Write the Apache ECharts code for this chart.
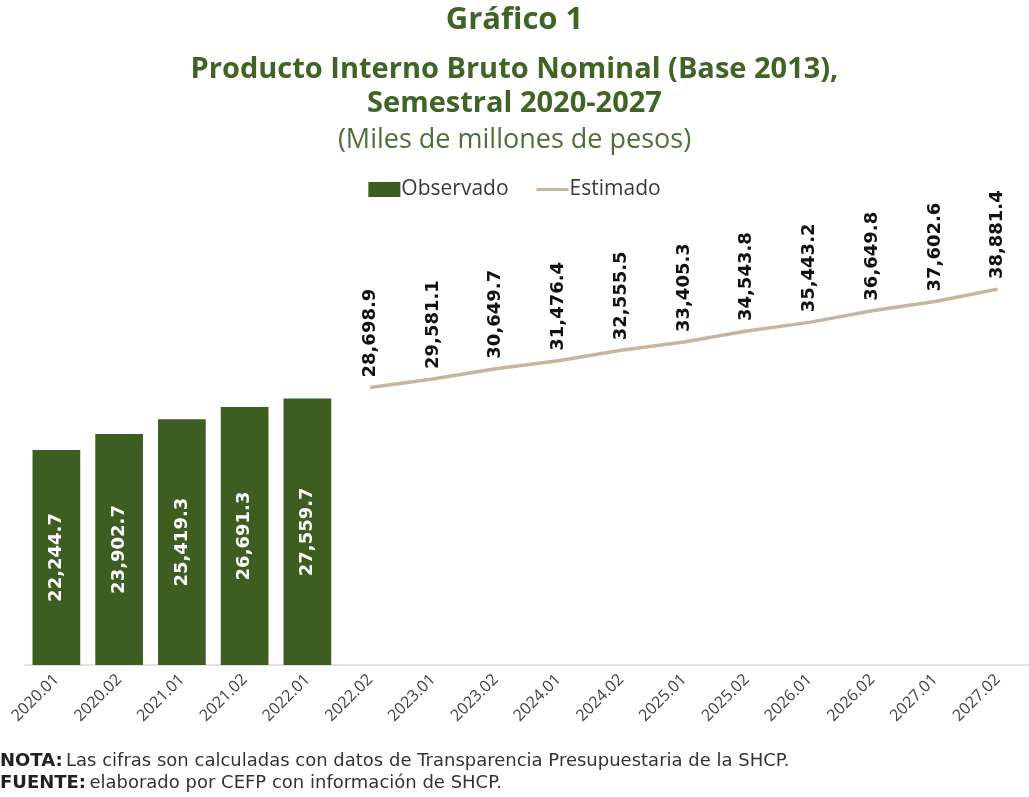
<!DOCTYPE html>
<html><head><meta charset="utf-8">
<script src="https://cdn.jsdelivr.net/npm/echarts@6/dist/echarts.min.js"></script>
<style>html,body{margin:0;padding:0;background:#fff}#c{width:1029px;height:797px}</style>
</head><body><div id="c"></div>
<script>
const categories = ['2020.01','2020.02','2021.01','2021.02','2022.01','2022.02','2023.01','2023.02','2024.01','2024.02','2025.01','2025.02','2026.01','2026.02','2027.01','2027.02'];
const observado = [22244.7, 23902.7, 25419.3, 26691.3, 27559.7, null, null, null, null, null, null, null, null, null, null, null];
const estimado = [null, null, null, null, null, 28698.9, 29581.1, 30649.7, 31476.4, 32555.5, 33405.3, 34543.8, 35443.2, 36649.8, 37602.6, 38881.4];

const fmt = v => Number(v).toLocaleString('en-US', {minimumFractionDigits:1, maximumFractionDigits:1});
const GREEN = '#3d5d21';
const TAN = '#c8b59e';
const chart = echarts.init(document.getElementById('c'));
chart.setOption({
  animation: false,
  backgroundColor: '#fff',
  title: [
    {text: 'Gráfico 1', left: 'center', top: 0, textStyle: {fontFamily: 'Open Sans', fontWeight: 'bold', fontSize: 31, color: '#3f6426'}},
    {text: 'Producto Interno Bruto Nominal (Base 2013),', left: 'center', top: 50, textStyle: {fontFamily: 'Open Sans', fontWeight: 'bold', fontSize: 29, color: '#3f6426'}},
    {text: 'Semestral 2020-2027', left: 'center', top: 84, textStyle: {fontFamily: 'Open Sans', fontWeight: 'bold', fontSize: 29, color: '#3f6426'}},
    {text: '(Miles de millones de pesos)', left: 'center', top: 122, textStyle: {fontFamily: 'Open Sans', fontWeight: 'normal', fontSize: 27, color: '#4f6e38'}}
  ],
  legend: {
    top: 174, left: 'center', itemGap: 28, itemWidth: 32, itemHeight: 15,
    textStyle: {fontFamily: 'Open Sans', fontSize: 21, color: '#3a3a3a', padding: [0,0,0,-4]},
    data: [
      {name: 'Observado', icon: 'rect', itemStyle: {color: GREEN}},
      {name: 'Estimado', icon: 'path://M0,6 L32,6 L32,9 L0,9 Z', itemStyle: {color: TAN, opacity: 1}}
    ]
  },
  graphic: [
    {type: 'text', left: 0, top: 752, style: {rich: {b: {fontWeight: 'bold', fontFamily: 'DejaVu Sans', fontSize: 18, fill: '#222'}, n: {fontFamily: 'DejaVu Sans', fontSize: 18, fill: '#333'}}, text: '{b|NOTA:} {n|Las cifras son calculadas con datos de Transparencia Presupuestaria de la SHCP.}'}},
    {type: 'text', left: 0, top: 774, style: {rich: {b: {fontWeight: 'bold', fontFamily: 'DejaVu Sans', fontSize: 18, fill: '#222'}, n: {fontFamily: 'DejaVu Sans', fontSize: 18, fill: '#333'}}, text: '{b|FUENTE:} {n|elaborado por CEFP con información de SHCP.}'}}
  ],
  grid: {left: 25, right: 0, top: 230, bottom: 132, containLabel: false},
  xAxis: {
    type: 'category', data: categories, boundaryGap: true,
    axisLine: {lineStyle: {color: '#d9d9d9', width: 1.5}},
    axisTick: {show: false},
    axisLabel: {rotate: 45, interval: 0, margin: 12, fontFamily: 'Open Sans', fontSize: 16, color: '#404040'}
  },
  yAxis: {type: 'value', min: 0, max: 45000, show: false, splitLine: {show: false}},
  series: [
    {
      name: 'Observado', type: 'bar', data: observado, barWidth: '76%',
      itemStyle: {color: GREEN},
      label: {show: true, position: 'inside', rotate: 90, formatter: p => fmt(p.value),
        fontFamily: 'DejaVu Sans', fontWeight: 'bold', fontSize: 18, color: '#fff'}
    },
    {
      name: 'Estimado', type: 'line', data: estimado, symbol: 'circle', symbolSize: 0.1, showSymbol: true, connectNulls: false,
      lineStyle: {color: TAN, width: 3.5},
      itemStyle: {color: TAN},
      label: {show: true, position: 'top', distance: 10, rotate: 90, align: 'left', verticalAlign: 'middle',
        formatter: p => fmt(p.value), fontFamily: 'DejaVu Sans', fontWeight: 'bold', fontSize: 18, color: '#111'}
    }
  ]
});
</script></body></html>
